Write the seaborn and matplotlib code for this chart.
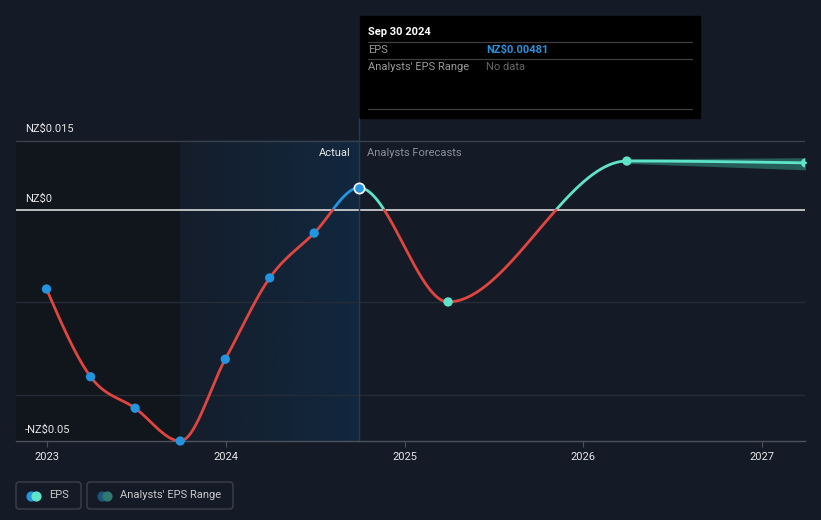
import numpy as np
import pandas as pd
import matplotlib
matplotlib.use("Agg")
import matplotlib.pyplot as plt
from matplotlib.patches import Rectangle, FancyBboxPatch
import seaborn as sns

# EPS history and analyst forecasts (NZ$)
actual_dates = ["2022-12-31", "2023-03-31", "2023-06-30", "2023-09-30",
                "2023-12-31", "2024-03-31", "2024-06-30", "2024-09-30"]
actual_eps = [-0.0171, -0.0361, -0.0429, -0.0500, -0.0323, -0.0147, -0.0050, 0.00481]

forecast_dates = ["2025-03-31", "2026-03-31", "2027-03-31"]
forecast_eps = [-0.0199, 0.0106, 0.0102]

range_dates = ["2026-03-31", "2027-03-31"]
range_low = [0.0101, 0.0087]
range_high = [0.0111, 0.0113]

year_ticks = [2023, 2024, 2025, 2026, 2027]
grid_vals = [0.015, -0.02, -0.04]
ylabel_vals = [0.015, 0.0, -0.05]
ylabel_texts = ["NZ$0.015", "NZ$0", "-NZ$0.05"]

BG = "#151b26"
RED = "#e0453f"
BLUE = "#2394df"
TEAL = "#5fe3c9"


def to_year(dates):
    d = pd.to_datetime(pd.Series(dates))
    days = np.where(d.dt.is_leap_year, 366, 365)
    return (d.dt.year + (d.dt.dayofyear - 1) / days).to_numpy(dtype=float)


def monotone(x, y, n=120):
    # monotone cubic curve (like d3 curveMonotoneX), only for drawing the line
    x = np.asarray(x, float)
    y = np.asarray(y, float)
    h = np.diff(x)
    s = np.diff(y) / h
    m = np.zeros_like(y)
    for i in range(1, len(x) - 1):
        p = (s[i - 1] * h[i] + s[i] * h[i - 1]) / (h[i - 1] + h[i])
        m[i] = (np.sign(s[i - 1]) + np.sign(s[i])) * min(abs(s[i - 1]), abs(s[i]), 0.5 * abs(p))
    m[0] = (3 * s[0] - m[1]) / 2
    m[-1] = (3 * s[-1] - m[-2]) / 2
    xs, ys = [], []
    for i in range(len(x) - 1):
        t = np.linspace(0, 1, n, endpoint=False)
        h00 = 2 * t**3 - 3 * t**2 + 1
        h10 = t**3 - 2 * t**2 + t
        h01 = -2 * t**3 + 3 * t**2
        h11 = t**3 - t**2
        xs.append(x[i] + t * h[i])
        ys.append(h00 * y[i] + h10 * h[i] * m[i] + h01 * y[i + 1] + h11 * h[i] * m[i + 1])
    xs.append([x[-1]])
    ys.append([y[-1]])
    return np.concatenate(xs), np.concatenate(ys)


def add_crossings(xx, yy):
    xo, yo = [xx[0]], [yy[0]]
    for i in range(1, len(xx)):
        if (yy[i - 1] < 0) != (yy[i] < 0) and yy[i - 1] != 0 and yy[i] != 0:
            xc = xx[i - 1] - yy[i - 1] * (xx[i] - xx[i - 1]) / (yy[i] - yy[i - 1])
            xo.append(xc)
            yo.append(0.0)
        xo.append(xx[i])
        yo.append(yy[i])
    return np.array(xo), np.array(yo)


def runs(mask):
    idx = np.flatnonzero(mask)
    if len(idx) == 0:
        return []
    cuts = np.flatnonzero(np.diff(idx) > 1) + 1
    return np.split(idx, cuts)


sns.set_style("dark", {"axes.facecolor": BG, "figure.facecolor": BG})
plt.rcParams["font.family"] = ["Roboto", "DejaVu Sans"]

fig = plt.figure(figsize=(8.21, 5.2), dpi=100)
fig.patch.set_facecolor(BG)

# pixel-based layout
ax = fig.add_axes([16 / 821, 1 - 441 / 520, 789 / 821, 323 / 520])
ax.set_facecolor(BG)

xa = to_year(actual_dates)
xf = to_year(forecast_dates)
xr = to_year(range_dates)
x_left = 2023 - 31 / 178.75
x_right = 2027 + 43 / 178.75
y_bot, y_top = -0.05, (210 - 118) / 4620

# background regions
x_last = xa[-1]
x_hl = x_last - 1.0
ax.fill_between([x_left, x_hl], y_bot, grid_vals[0], color="#11151c", zorder=0.5, lw=0)
grad = np.zeros((1, 256, 4))
grad[..., 0] = 10 / 255
grad[..., 1] = 70 / 255
grad[..., 2] = 120 / 255
grad[..., 3] = np.linspace(0.06, 0.30, 256)
ax.imshow(grad, extent=[x_hl, x_last, y_bot, grid_vals[0]], aspect="auto",
          zorder=0.6, interpolation="bilinear")

# grid lines
ax.axhline(grid_vals[0], color="#3a3f4a", lw=1, zorder=1)
for g in grid_vals[1:]:
    ax.axhline(g, color="#262c37", lw=1, zorder=1)
ax.axhline(0, color="#d9d9d9", lw=1.2, zorder=2)
ax.axvline(x_last, color="#1d3c58", lw=1, zorder=2)

# analyst range band
ax.fill_between(xr, range_low, range_high, color="#2e7a70", alpha=0.7, lw=0, zorder=3)

# one continuous EPS curve, coloured by sign and by actual / forecast
x_all = np.concatenate([xa, xf])
y_all = np.concatenate([actual_eps, forecast_eps])
xx, yy = add_crossings(*monotone(x_all, y_all))
eps = 1e-9
for past, pos_col in [(True, BLUE), (False, TEAL)]:
    part = xx <= x_last + eps if past else xx >= x_last - eps
    for mask, col in [(part & (yy >= 0), pos_col), (part & (yy <= 0), RED)]:
        for r in runs(mask):
            if len(r) < 2:
                continue
            sns.lineplot(x=xx[r], y=yy[r], color=col, lw=2.0, sort=False,
                         estimator=None, ax=ax, zorder=4, clip_on=False)

sns.scatterplot(x=xa[:-1], y=actual_eps[:-1], color=BLUE, s=45, edgecolor="none",
                ax=ax, zorder=5, clip_on=False)
sns.scatterplot(x=[xa[-1]], y=[actual_eps[-1]], color=BLUE, s=55, edgecolor="white",
                linewidth=1.2, ax=ax, zorder=6)
sns.scatterplot(x=xf, y=forecast_eps, color=TEAL, s=45, edgecolor="none", ax=ax, zorder=5)

ax.set_xlim(x_left, x_right)
ax.set_ylim(y_bot, y_top)
ax.set_xticks(year_ticks)
ax.set_xticklabels([str(y) for y in year_ticks], color="#e6e6e6", fontsize=8)
ax.set_yticks([])
ax.tick_params(axis="x", length=4, color="#4d525c", pad=4, direction="out", bottom=True)
for side in ["top", "left", "right"]:
    ax.spines[side].set_visible(False)
ax.spines["bottom"].set_color("#4d525c")
ax.spines["bottom"].set_linewidth(1)
ax.spines["bottom"].set_zorder(3)
ax.grid(False)
ax.set_xlabel("")
ax.set_ylabel("")

for v, t in zip(ylabel_vals, ylabel_texts):
    ax.annotate(t, xy=(9 / 789, v), xycoords=("axes fraction", "data"),
                xytext=(0, 6), textcoords="offset points", va="baseline",
                ha="left", color="#e6e6e6", fontsize=8)

ax.annotate("Actual", xy=(x_last, grid_vals[0]), xycoords="data", xytext=(-6, -11),
            textcoords="offset points", ha="right", va="baseline", color="#e8e8e8", fontsize=8)
ax.annotate("Analysts Forecasts", xy=(x_last, grid_vals[0]), xycoords="data", xytext=(6, -11),
            textcoords="offset points", ha="left", va="baseline", color="#8b9099", fontsize=8)

# overlay in pixel coordinates for tooltip and legend
ov = fig.add_axes([0, 0, 1, 1], facecolor="none")
ov.set_xlim(0, 821)
ov.set_ylim(520, 0)
ov.axis("off")

ov.add_patch(Rectangle((360, 16), 340, 102, color="black", zorder=1))
ov.text(368, 35, "Sep 30 2024", color="white", fontsize=8, fontweight="bold", va="baseline")
for yl in [41.5, 58.5, 109]:
    ov.plot([368, 692], [yl, yl], color="#3f3f3f", lw=0.9, zorder=2)
ov.text(368, 53, "EPS", color="#9a9a9a", fontsize=8, va="baseline")
ov.text(486, 53, "NZ$0.00481", color=BLUE, fontsize=8, fontweight="bold", va="baseline")
ov.text(368, 70, "Analysts' EPS Range", color="#9a9a9a", fontsize=8, va="baseline")
ov.text(486, 70, "No data", color="#666666", fontsize=8, va="baseline")

# legend boxes
legend_items = [("EPS", BLUE, TEAL, 16, 65), ("Analysts' EPS Range", "#1d5580", "#2e7a70", 87, 146)]
for label, c1, c2, bx, bw in legend_items:
    ov.add_patch(FancyBboxPatch((bx, 482), bw, 27, boxstyle="round,pad=0,rounding_size=3",
                                fc="none", ec="#3b404a", lw=1))
    ov.scatter([bx + 15], [495.5], s=40, color=c1, zorder=3)
    ov.scatter([bx + 20], [495.5], s=40, color=c2, zorder=4)
    ov.text(bx + 33, 495.5, label, color="#c8c8c8", fontsize=8, va="center")

fig.savefig("out.png", dpi=100, facecolor=BG)
